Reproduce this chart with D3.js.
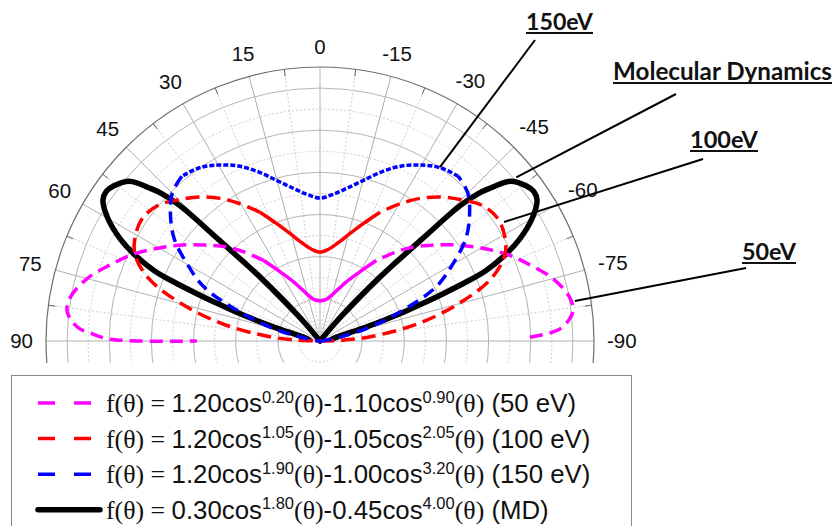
<!DOCTYPE html>
<html><head><meta charset="utf-8">
<script src="https://cdn.jsdelivr.net/npm/d3@7/dist/d3.min.js"></script>
<style>body{margin:0;background:#fff}svg{display:block}</style>
</head><body>
<svg id="chart" width="835" height="526"></svg>
<script>
// ---------- data ----------
const angleTicks = [90,75,60,45,30,15,0,-15,-30,-45,-60,-75,-90];
const angleTickLabels = ["90","75","60","45","30","15","0","-15","-30","-45","-60","-75","-90"];

// 50 eV (magenta)
const ang50 = [-89,-88,-87,-85,-83,-80,-75,-70,-65,-60,-55,-50,-45,-40,-35,-30,-25,-20,-15,-10,-5,0,5,10,15,20,25,30,35,40,45,50,55,60,65,70,75,80,83,85,87,88,89.5,90];
const r50 = [0.498,0.546,0.572,0.594,0.605,0.601,0.572,0.529,0.488,0.441,0.397,0.354,0.316,0.274,0.233,0.190,0.159,0.133,0.114,0.102,0.097,0.095,0.097,0.102,0.114,0.133,0.159,0.190,0.233,0.274,0.316,0.354,0.397,0.441,0.488,0.529,0.572,0.601,0.605,0.594,0.572,0.546,0.498,0.292];

// 100 eV (red)
const ang100 = [-90,-88,-85,-80,-75,-70,-65,-60,-55,-50,-45,-40,-35,-30,-25,-20,-15,-10,-5,0,5,10,15,20,25,30,35,40,45,50,55,60,65,70,75,80,85,88,90];
const r100 = [0,0.052,0.123,0.235,0.339,0.432,0.484,0.505,0.512,0.501,0.474,0.446,0.413,0.375,0.337,0.295,0.261,0.235,0.218,0.211,0.218,0.235,0.261,0.295,0.337,0.375,0.413,0.446,0.474,0.501,0.512,0.505,0.484,0.432,0.339,0.235,0.123,0.052,0];

// 150 eV (blue)
const ang150 = [-90,-85,-80,-75,-70,-65,-60,-55,-50,-45,-40,-35,-30,-25,-20,-15,-10,-5,0,5,10,15,20,25,30,35,40,45,50,55,60,65,70,75,80,85,90];
const r150 = [0,0.007,0.033,0.114,0.204,0.304,0.363,0.422,0.463,0.496,0.510,0.501,0.482,0.458,0.427,0.394,0.368,0.349,0.339,0.349,0.368,0.394,0.427,0.458,0.482,0.501,0.510,0.496,0.463,0.422,0.363,0.304,0.204,0.114,0.033,0.007,0];

// Molecular Dynamics (black)
const angMD = [-90,-85,-80,-76,-74,-73,-72,-71,-70,-69,-68,-67,-65,-63,-60,-57,-55,-53,-50,-48,-47,-46,-45,-44,-43,-42,-40,-38,0,38,40,42,43,44,45,46,47,48,50,53,55,57,60,63,65,67,68,69,70,71,72,73,74,76,80,85,90];
const rMD = [0.024,0.026,0.031,0.047,0.083,0.119,0.161,0.209,0.256,0.313,0.375,0.427,0.486,0.531,0.581,0.614,0.619,0.612,0.590,0.541,0.512,0.463,0.340,0.260,0.202,0.138,0.052,0,0,0,0.052,0.138,0.202,0.260,0.340,0.463,0.512,0.541,0.590,0.612,0.619,0.614,0.581,0.531,0.486,0.427,0.375,0.313,0.256,0.209,0.161,0.119,0.083,0.047,0.031,0.026,0.024];

// legend texts
const legCoefA = ["1.20","1.20","1.20","0.30"];
const legExpA  = ["0.20","1.05","1.90","1.80"];
const legCoefB = ["1.10","1.05","1.00","0.45"];
const legExpB  = ["0.90","2.05","3.20","4.00"];
const legTag   = ["(50 eV)","(100 eV)","(150 eV)","(MD)"];

// annotations (anchor given in data space: angle, value)
const annText  = ["150eV","Molecular Dynamics","100eV","50eV"];
const annAngle = [-34.6,-50.2,-57.1,-81.1];
const annValue = [0.501,0.606,0.520,0.612];

// ---------- drawing ----------
const svg = d3.select("#chart");
const cx = 320, cy = 341, R = 274;
const rScale = d3.scaleLinear().domain([0, 0.65]).range([0, R]);
const aScale = d3.scaleLinear().domain([-90, 90]).range([Math.PI/2, -Math.PI/2]);
const px = (deg, r) => cx + r*Math.sin(aScale(deg));
const py = (deg, r) => cy - r*Math.cos(aScale(deg));

svg.append("defs").append("clipPath").attr("id","clipGrid")
  .append("rect").attr("x",0).attr("y",0).attr("width",835).attr("height",363);

const grid = svg.append("g").attr("clip-path","url(#clipGrid)");
// circles
d3.range(1, 13).forEach(i => {
  const v = i*0.05;
  grid.append("circle").attr("cx",cx).attr("cy",cy).attr("r",rScale(v))
    .attr("fill","none")
    .attr("stroke", i%2===0 ? "#b4b4b4" : "#cfcfcf")
    .attr("stroke-width", 1)
    .attr("stroke-dasharray", i%2===0 ? null : "2,2");
});
// spokes
d3.range(-90, 90.01, 7.5).forEach(a => {
  const solid = Math.abs(a % 15) < 1e-6;
  grid.append("line").attr("x1",cx).attr("y1",cy)
    .attr("x2",px(a,R)).attr("y2",py(a,R))
    .attr("stroke", solid ? "#b0b0b0" : "#cfcfcf")
    .attr("stroke-width",1)
    .attr("stroke-dasharray", solid ? null : "2,2");
  if (!solid) {
    grid.append("line").attr("x1",px(a,R)).attr("y1",py(a,R))
      .attr("x2",px(a,R-7)).attr("y2",py(a,R-7))
      .attr("stroke","#666").attr("stroke-width",1);
  }
});
grid.append("circle").attr("cx",cx).attr("cy",cy).attr("r",R)
  .attr("fill","none").attr("stroke","#6e6e6e").attr("stroke-width",1.2);

// angle labels
const lab = svg.append("g").attr("font-family","'Liberation Sans', Arial, sans-serif").attr("font-size",20.5).attr("fill","#111");
angleTicks.forEach((a,i) => {
  const t = lab.append("text").attr("text-anchor","middle").text(angleTickLabels[i]);
  const w = t.node().getComputedTextLength();
  const h = 14.7;
  const th = aScale(a);
  const d = 287 + Math.abs(w/2*Math.sin(th)) + Math.abs(h/2*Math.cos(th));
  t.attr("x", px(a,d)).attr("y", py(a,d) + h/2);
});

// curves
function drawSeries(angles, values, color, width, segs) {
  const pts = angles.map((a,i)=>({a, r: values[i]}));
  const line = d3.lineRadial()
    .angle(d => aScale(d.a))
    .radius(d => rScale(d.r))
    .curve(d3.curveCatmullRom.alpha(0.5));
  const g = svg.append("g").attr("transform",`translate(${cx},${cy})`);
  segs.forEach(s => {
    const sub = pts.filter(p => p.a >= s.lo && p.a <= s.hi);
    g.append("path").attr("d", line(sub))
      .attr("fill","none").attr("stroke",color).attr("stroke-width",width)
      .attr("stroke-linejoin","round")
      .attr("stroke-dasharray", s.dash);
  });
}
drawSeries(angMD, rMD, "#000", 5.5, [{lo:-90,hi:90,dash:null}]);
drawSeries(ang50, r50, "#ff00ff", 3.5, [{lo:-90,hi:-35,dash:"13,7"},{lo:-35,hi:35,dash:null},{lo:35,hi:90,dash:"13,7"}]);
drawSeries(ang100, r100, "#ff0000", 3.5, [{lo:-90,hi:-25,dash:"14,7"},{lo:-25,hi:25,dash:null},{lo:25,hi:90,dash:"14,7"}]);
drawSeries(ang150, r150, "#0000ff", 3.5, [{lo:-90,hi:-40,dash:"12,7"},{lo:-40,hi:40,dash:"5,2"},{lo:40,hi:90,dash:"12,7"}]);

// annotations
const annBox = [
  {x:526, y:30, w:67, ux:33, lx:535, ly:40},
  {x:613, y:80, w:219, ux:83, lx:676, ly:94},
  {x:690, y:148, w:68, ux:151, lx:703, ly:159},
  {x:742, y:260, w:54, ux:263, lx:746, ly:268}
];
annText.forEach((t,i) => {
  const b = annBox[i];
  const te = svg.append("text").attr("x",b.x).attr("y",b.y)
    .attr("font-family","Lato, 'Open Sans', sans-serif").attr("font-weight","bold")
    .attr("font-size",25).attr("fill","#111").text(t);
  const w = te.node().getComputedTextLength();
  te.attr("font-size", 25*b.w/w);
  svg.append("line").attr("x1",b.x).attr("x2",b.x+b.w).attr("y1",b.ux).attr("y2",b.ux)
    .attr("stroke","#111").attr("stroke-width",1.8);
  const r = rScale(annValue[i]);
  svg.append("line").attr("x1",b.lx).attr("y1",b.ly)
    .attr("x2",px(annAngle[i],r)).attr("y2",py(annAngle[i],r))
    .attr("stroke","#000").attr("stroke-width",2);
});

// legend
svg.append("rect").attr("x",11.5).attr("y",375.5).attr("width",620).attr("height",200)
  .attr("fill","#fff").attr("stroke","#8a8a8a").attr("stroke-width",1);
const legColors = ["#ff00ff","#ff0000","#0000ff","#000"];
const serif = "'Liberation Serif','Times New Roman',serif";
const sans = "'Liberation Sans',Arial,sans-serif";
legTag.forEach((tag,i) => {
  const base = 412 + i*35.6;
  const ly = base - 9;
  if (i < 3) {
    svg.append("line").attr("x1",38).attr("x2",92).attr("y1",ly).attr("y2",ly)
      .attr("stroke",legColors[i]).attr("stroke-width",3.5).attr("stroke-dasharray","17,19");
  } else {
    svg.append("line").attr("x1",38).attr("x2",100).attr("y1",ly).attr("y2",ly)
      .attr("stroke","#000").attr("stroke-width",5.5).attr("stroke-linecap","round");
  }
  const t = svg.append("text").attr("x",106).attr("y",base).attr("font-size",25.8).attr("fill","#111");
  t.append("tspan").attr("font-family",serif).text("f(θ) = ");
  t.append("tspan").attr("font-family",sans).text(legCoefA[i]+"cos");
  t.append("tspan").attr("font-family",sans).attr("font-size",16.5).attr("dy",-9.5).text(legExpA[i]);
  t.append("tspan").attr("font-family",serif).attr("dy",9.5).text("(θ)");
  t.append("tspan").attr("font-family",sans).text("-"+legCoefB[i]+"cos");
  t.append("tspan").attr("font-family",sans).attr("font-size",16.5).attr("dy",-9.5).text(legExpB[i]);
  t.append("tspan").attr("font-family",serif).attr("dy",9.5).text("(θ)");
  t.append("tspan").attr("font-family",sans).text(" "+tag);
});
</script>
</body></html>
